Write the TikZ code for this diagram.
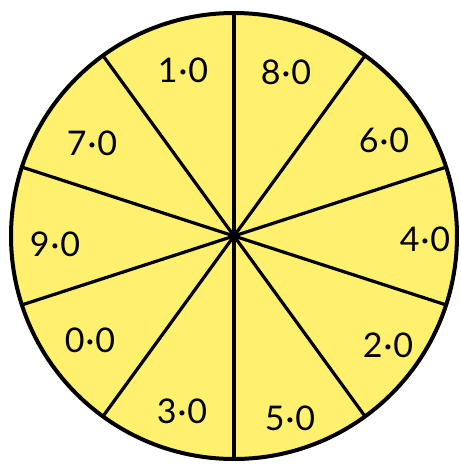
\documentclass[tikz,border=0pt]{standalone}
\usepackage{fontspec}
\setmainfont{Lato}
\definecolor{wheelyellow}{RGB}{255,240,110}
\tikzset{
  lbl/.style={font=\fontsize{34}{36}\selectfont, text=black, inner sep=0pt},
  spoke/.style={line width=3.2pt, black},
  rim/.style={line width=4pt, black, fill=wheelyellow}
}
\newcommand{\dotnum}[1]{#1\kern1pt·\kern1pt0}
\begin{document}
\begin{tikzpicture}[x=1pt,y=-1pt]
\useasboundingbox (0,0) rectangle (461,464);
\coordinate (c) at (234,236);
\draw[rim] (c) circle[radius=223];
\foreach \a in {90,54,18,-18,-54,-90,-126,-162,-198,-234}{
  \draw[spoke] (c) -- ++(\a:-223);
}
\node[lbl] (l1) at (183,70) {\dotnum{1}};
\node[lbl] (l8) at (286,72) {\dotnum{8}};
\node[lbl] (l6) at (384,140) {\dotnum{6}};
\node[lbl] (l4) at (425,239) {\dotnum{4}};
\node[lbl] (l2) at (388,345) {\dotnum{2}};
\node[lbl] (l5) at (290,418) {\dotnum{5}};
\node[lbl] (l3) at (182,411) {\dotnum{3}};
\node[lbl] (l0) at (90,340) {\dotnum{0}};
\node[lbl] (l9) at (55,244) {\dotnum{9}};
\node[lbl] (l7) at (92,143) {\dotnum{7}};
\end{tikzpicture}
\end{document}
